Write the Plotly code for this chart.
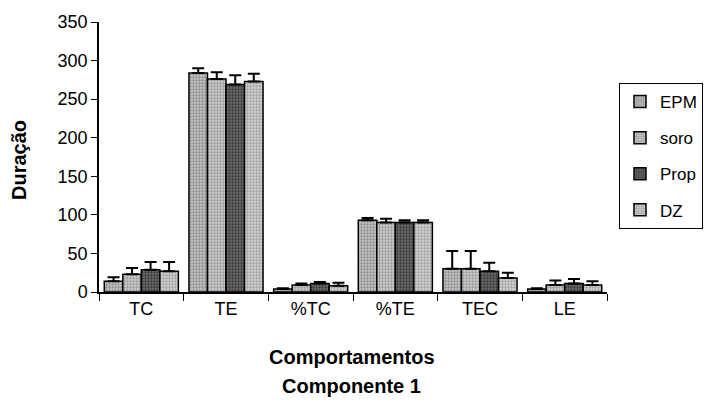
import plotly.graph_objects as go

categories = ["TC", "TE", "%TC", "%TE", "TEC", "LE"]

epm = [14, 284, 4, 93, 30, 4]
epm_err = [5, 6, 1, 3, 23, 1]

soro = [23, 276, 9, 90, 30, 9]
soro_err = [8, 9, 2, 5, 23, 6]

prop = [29, 269, 11, 90, 27, 11]
prop_err = [10, 12, 2, 3, 11, 6]

dz = [27, 273, 8, 90, 18, 9]
dz_err = [12, 10, 4, 3, 7, 5]

series = [
    ("EPM", epm, epm_err, "#555555", "#c4c4c4"),
    ("soro", soro, soro_err, "#666666", "#cccccc"),
    ("Prop", prop, prop_err, "#0a0a0a", "#6a6a6a"),
    ("DZ", dz, dz_err, "#707070", "#d2d2d2"),
]

FONT = "Liberation Sans, Arial, sans-serif"

fig = go.Figure()
for name, vals, errs, fg, bg in series:
    fig.add_trace(go.Bar(
        name=name,
        x=categories,
        y=vals,
        legendgroup=name,
        marker=dict(
            color=bg,
            line=dict(color="black", width=1.5),
            pattern=dict(shape=".", fgcolor=fg, bgcolor=bg, size=3, solidity=0.45),
        ),
        error_y=dict(
            type="data", array=errs, arrayminus=[0] * len(errs), symmetric=False,
            color="black", thickness=2, width=6,
        ),
    ))

fig.update_layout(
    width=704,
    height=412,
    margin=dict(l=99, r=97, t=22, b=120, autoexpand=False),
    paper_bgcolor="white",
    plot_bgcolor="white",
    barmode="group",
    bargap=0.125,
    bargroupgap=0,
    font=dict(family=FONT, color="black", size=18),
    showlegend=True,
    legend=dict(
        x=1.0236, y=0.774, xanchor="left", yanchor="top",
        bordercolor="black", borderwidth=1,
        font=dict(size=17, family=FONT),
        tracegroupgap=11,
        itemwidth=30,
        bgcolor="white",
    ),
    xaxis=dict(
        type="category",
        showline=True, linecolor="black", linewidth=1.5,
        ticks="outside", tickson="boundaries", ticklen=7, tickcolor="black",
        tickfont=dict(size=18),
        showgrid=False, zeroline=False,
    ),
    yaxis=dict(
        range=[0, 350],
        tickvals=[0, 50, 100, 150, 200, 250, 300, 350],
        showline=True, linecolor="black", linewidth=1.5,
        ticks="outside", ticklen=6, tickcolor="black",
        tickfont=dict(size=18),
        showgrid=False, zeroline=False,
    ),
    annotations=[
        dict(text="<b>Comportamentos</b>", xref="paper", yref="paper",
             x=0.498, y=-0.241, xanchor="center", yanchor="middle",
             showarrow=False, font=dict(size=20)),
        dict(text="<b>Componente 1</b>", xref="paper", yref="paper",
             x=0.498, y=-0.348, xanchor="center", yanchor="middle",
             showarrow=False, font=dict(size=20)),
        dict(text="<b>Duração</b>", xref="paper", yref="paper",
             x=-0.1575, y=0.489, xanchor="center", yanchor="middle",
             textangle=-90, showarrow=False, font=dict(size=20)),
    ],
)

fig.write_html("out.html")
